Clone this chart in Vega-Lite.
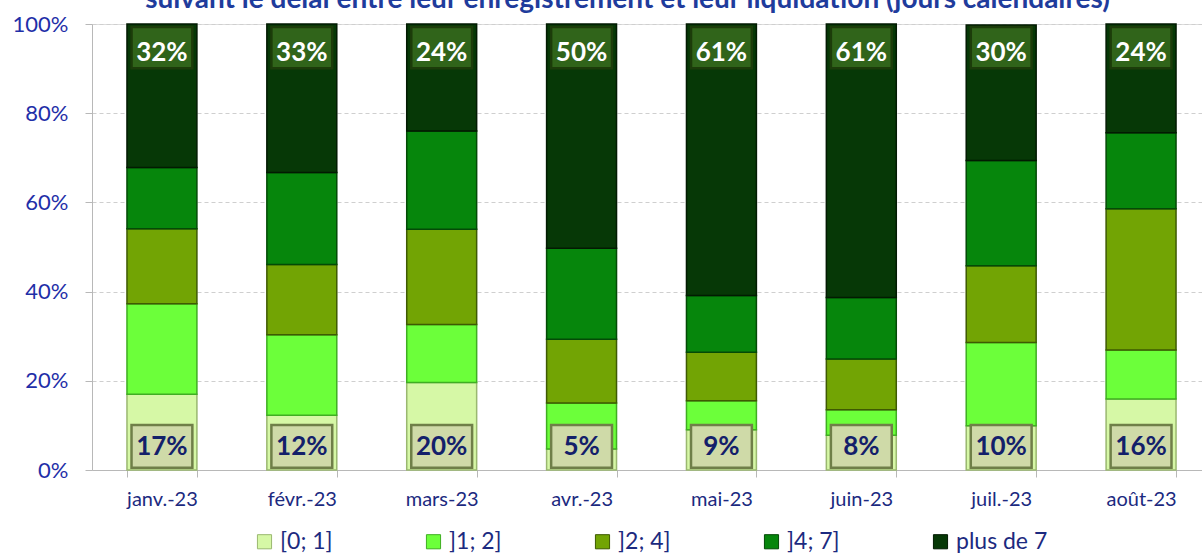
{
  "$schema": "https://vega.github.io/schema/vega-lite/v6.json",
  "width": 1119,
  "height": 446,
  "autosize": {"type": "none"},
  "padding": {"left": 92, "top": 24, "right": 0, "bottom": 84},
  "background": "white",
  "title": {
    "text": "suivant le délai entre leur enregistrement et leur liquidation (jours calendaires)",
    "font": "Lato",
    "fontSize": 28,
    "fontWeight": "bold",
    "color": "#1f3c9c",
    "baseline": "alphabetic",
    "offset": 0,
    "dy": 23,
    "anchor": "middle",
    "dx": -24
  },
  "data": {
    "values": [
      {"mois": "janv.-23", "cat": "[0; 1]", "o": 1, "v": 0.17},
      {"mois": "janv.-23", "cat": "]1; 2]", "o": 2, "v": 0.203},
      {"mois": "janv.-23", "cat": "]2; 4]", "o": 3, "v": 0.168},
      {"mois": "janv.-23", "cat": "]4; 7]", "o": 4, "v": 0.137},
      {"mois": "janv.-23", "cat": "plus de 7", "o": 5, "v": 0.322},
      {"mois": "févr.-23", "cat": "[0; 1]", "o": 1, "v": 0.123},
      {"mois": "févr.-23", "cat": "]1; 2]", "o": 2, "v": 0.18},
      {"mois": "févr.-23", "cat": "]2; 4]", "o": 3, "v": 0.158},
      {"mois": "févr.-23", "cat": "]4; 7]", "o": 4, "v": 0.206},
      {"mois": "févr.-23", "cat": "plus de 7", "o": 5, "v": 0.333},
      {"mois": "mars-23", "cat": "[0; 1]", "o": 1, "v": 0.196},
      {"mois": "mars-23", "cat": "]1; 2]", "o": 2, "v": 0.13},
      {"mois": "mars-23", "cat": "]2; 4]", "o": 3, "v": 0.214},
      {"mois": "mars-23", "cat": "]4; 7]", "o": 4, "v": 0.22},
      {"mois": "mars-23", "cat": "plus de 7", "o": 5, "v": 0.24},
      {"mois": "avr.-23", "cat": "[0; 1]", "o": 1, "v": 0.047},
      {"mois": "avr.-23", "cat": "]1; 2]", "o": 2, "v": 0.103},
      {"mois": "avr.-23", "cat": "]2; 4]", "o": 3, "v": 0.143},
      {"mois": "avr.-23", "cat": "]4; 7]", "o": 4, "v": 0.204},
      {"mois": "avr.-23", "cat": "plus de 7", "o": 5, "v": 0.503},
      {"mois": "mai-23", "cat": "[0; 1]", "o": 1, "v": 0.09},
      {"mois": "mai-23", "cat": "]1; 2]", "o": 2, "v": 0.065},
      {"mois": "mai-23", "cat": "]2; 4]", "o": 3, "v": 0.109},
      {"mois": "mai-23", "cat": "]4; 7]", "o": 4, "v": 0.127},
      {"mois": "mai-23", "cat": "plus de 7", "o": 5, "v": 0.609},
      {"mois": "juin-23", "cat": "[0; 1]", "o": 1, "v": 0.078},
      {"mois": "juin-23", "cat": "]1; 2]", "o": 2, "v": 0.057},
      {"mois": "juin-23", "cat": "]2; 4]", "o": 3, "v": 0.114},
      {"mois": "juin-23", "cat": "]4; 7]", "o": 4, "v": 0.138},
      {"mois": "juin-23", "cat": "plus de 7", "o": 5, "v": 0.613},
      {"mois": "juil.-23", "cat": "[0; 1]", "o": 1, "v": 0.099},
      {"mois": "juil.-23", "cat": "]1; 2]", "o": 2, "v": 0.187},
      {"mois": "juil.-23", "cat": "]2; 4]", "o": 3, "v": 0.172},
      {"mois": "juil.-23", "cat": "]4; 7]", "o": 4, "v": 0.236},
      {"mois": "juil.-23", "cat": "plus de 7", "o": 5, "v": 0.304},
      {"mois": "août-23", "cat": "[0; 1]", "o": 1, "v": 0.159},
      {"mois": "août-23", "cat": "]1; 2]", "o": 2, "v": 0.11},
      {"mois": "août-23", "cat": "]2; 4]", "o": 3, "v": 0.317},
      {"mois": "août-23", "cat": "]4; 7]", "o": 4, "v": 0.17},
      {"mois": "août-23", "cat": "plus de 7", "o": 5, "v": 0.244}
    ]
  },
  "encoding": {
    "x": {
      "field": "mois",
      "type": "nominal",
      "sort": null,
      "title": null,
      "scale": {"paddingInner": 0.5, "paddingOuter": 0.25},
      "axis": {
        "labelAngle": 0,
        "labelFont": "Lato",
        "labelFontSize": 20,
        "labelColor": "#1c2a80",
        "labelPadding": 12,
        "domainColor": "#b8b8b8",
        "tickColor": "#b8b8b8",
        "tickBand": "extent",
        "tickSize": 7,
        "grid": false
      }
    }
  },
  "layer": [
    {
      "mark": {"type": "bar", "strokeWidth": 1.5},
      "encoding": {
        "y": {
          "field": "v",
          "type": "quantitative",
          "stack": "zero",
          "title": null,
          "scale": {"domain": [0, 1], "nice": false},
          "axis": {
            "format": ".0%",
            "values": [0, 0.2, 0.4, 0.6, 0.8, 1],
            "labelFont": "Lato",
            "labelFontSize": 22,
            "labelColor": "#1f2fa8",
            "labelPadding": 17,
            "domainColor": "#b8b8b8",
            "tickColor": "#b8b8b8",
            "tickSize": 7,
            "gridColor": "#cfcfcf",
            "gridDash": [4, 3]
          }
        },
        "order": {"field": "o", "type": "quantitative"},
        "color": {
          "field": "cat",
          "type": "nominal",
          "scale": {
            "domain": ["[0; 1]", "]1; 2]", "]2; 4]", "]4; 7]", "plus de 7"],
            "range": ["#d6f8a6", "#6cff3a", "#72a404", "#06860c", "#063806"]
          },
          "legend": {
            "title": null,
            "orient": "none",
            "legendX": 161,
            "legendY": 506,
            "direction": "horizontal",
            "columns": 5,
            "gridAlign": "all",
            "columnPadding": 50,
            "symbolType": "square",
            "symbolSize": 200,
            "symbolStrokeWidth": 1,
            "symbolStrokeColor": "#3a5a20",
            "labelFont": "Lato",
            "labelFontSize": 23,
            "labelColor": "#1c2a80",
            "labelOffset": 4
          }
        },
        "stroke": {
          "field": "cat",
          "type": "nominal",
          "scale": {
            "domain": ["[0; 1]", "]1; 2]", "]2; 4]", "]4; 7]", "plus de 7"],
            "range": ["#9ab870", "#3fae22", "#3e5a02", "#034a06", "#021a02"]
          },
          "legend": null
        }
      }
    },
    {
      "transform": [{"filter": "datum.cat === '[0; 1]'"}],
      "mark": {"type": "bar", "width": {"band": 0.87}, "fill": "#cfdaa8", "stroke": "#6f7f48", "strokeWidth": 2.5},
      "encoding": {"y": {"datum": 0.005}, "y2": {"datum": 0.101}}
    },
    {
      "transform": [{"filter": "datum.cat === '[0; 1]'"}],
      "mark": {"type": "text", "font": "Lato", "fontSize": 26, "fontWeight": "bold", "color": "#13206a", "baseline": "middle"},
      "encoding": {"y": {"datum": 0.051}, "text": {"field": "v", "type": "quantitative", "format": ".0%"}}
    },
    {
      "transform": [{"filter": "datum.cat === 'plus de 7'"}],
      "mark": {"type": "bar", "width": {"band": 0.87}, "fill": "#30641a", "stroke": "#1c3c0a", "strokeWidth": 2.5},
      "encoding": {"y": {"datum": 0.901}, "y2": {"datum": 0.993}}
    },
    {
      "transform": [{"filter": "datum.cat === 'plus de 7'"}],
      "mark": {"type": "text", "font": "Lato", "fontSize": 26, "fontWeight": "bold", "color": "#ffffff", "baseline": "middle"},
      "encoding": {"y": {"datum": 0.936}, "text": {"field": "v", "type": "quantitative", "format": ".0%"}}
    }
  ]
}
